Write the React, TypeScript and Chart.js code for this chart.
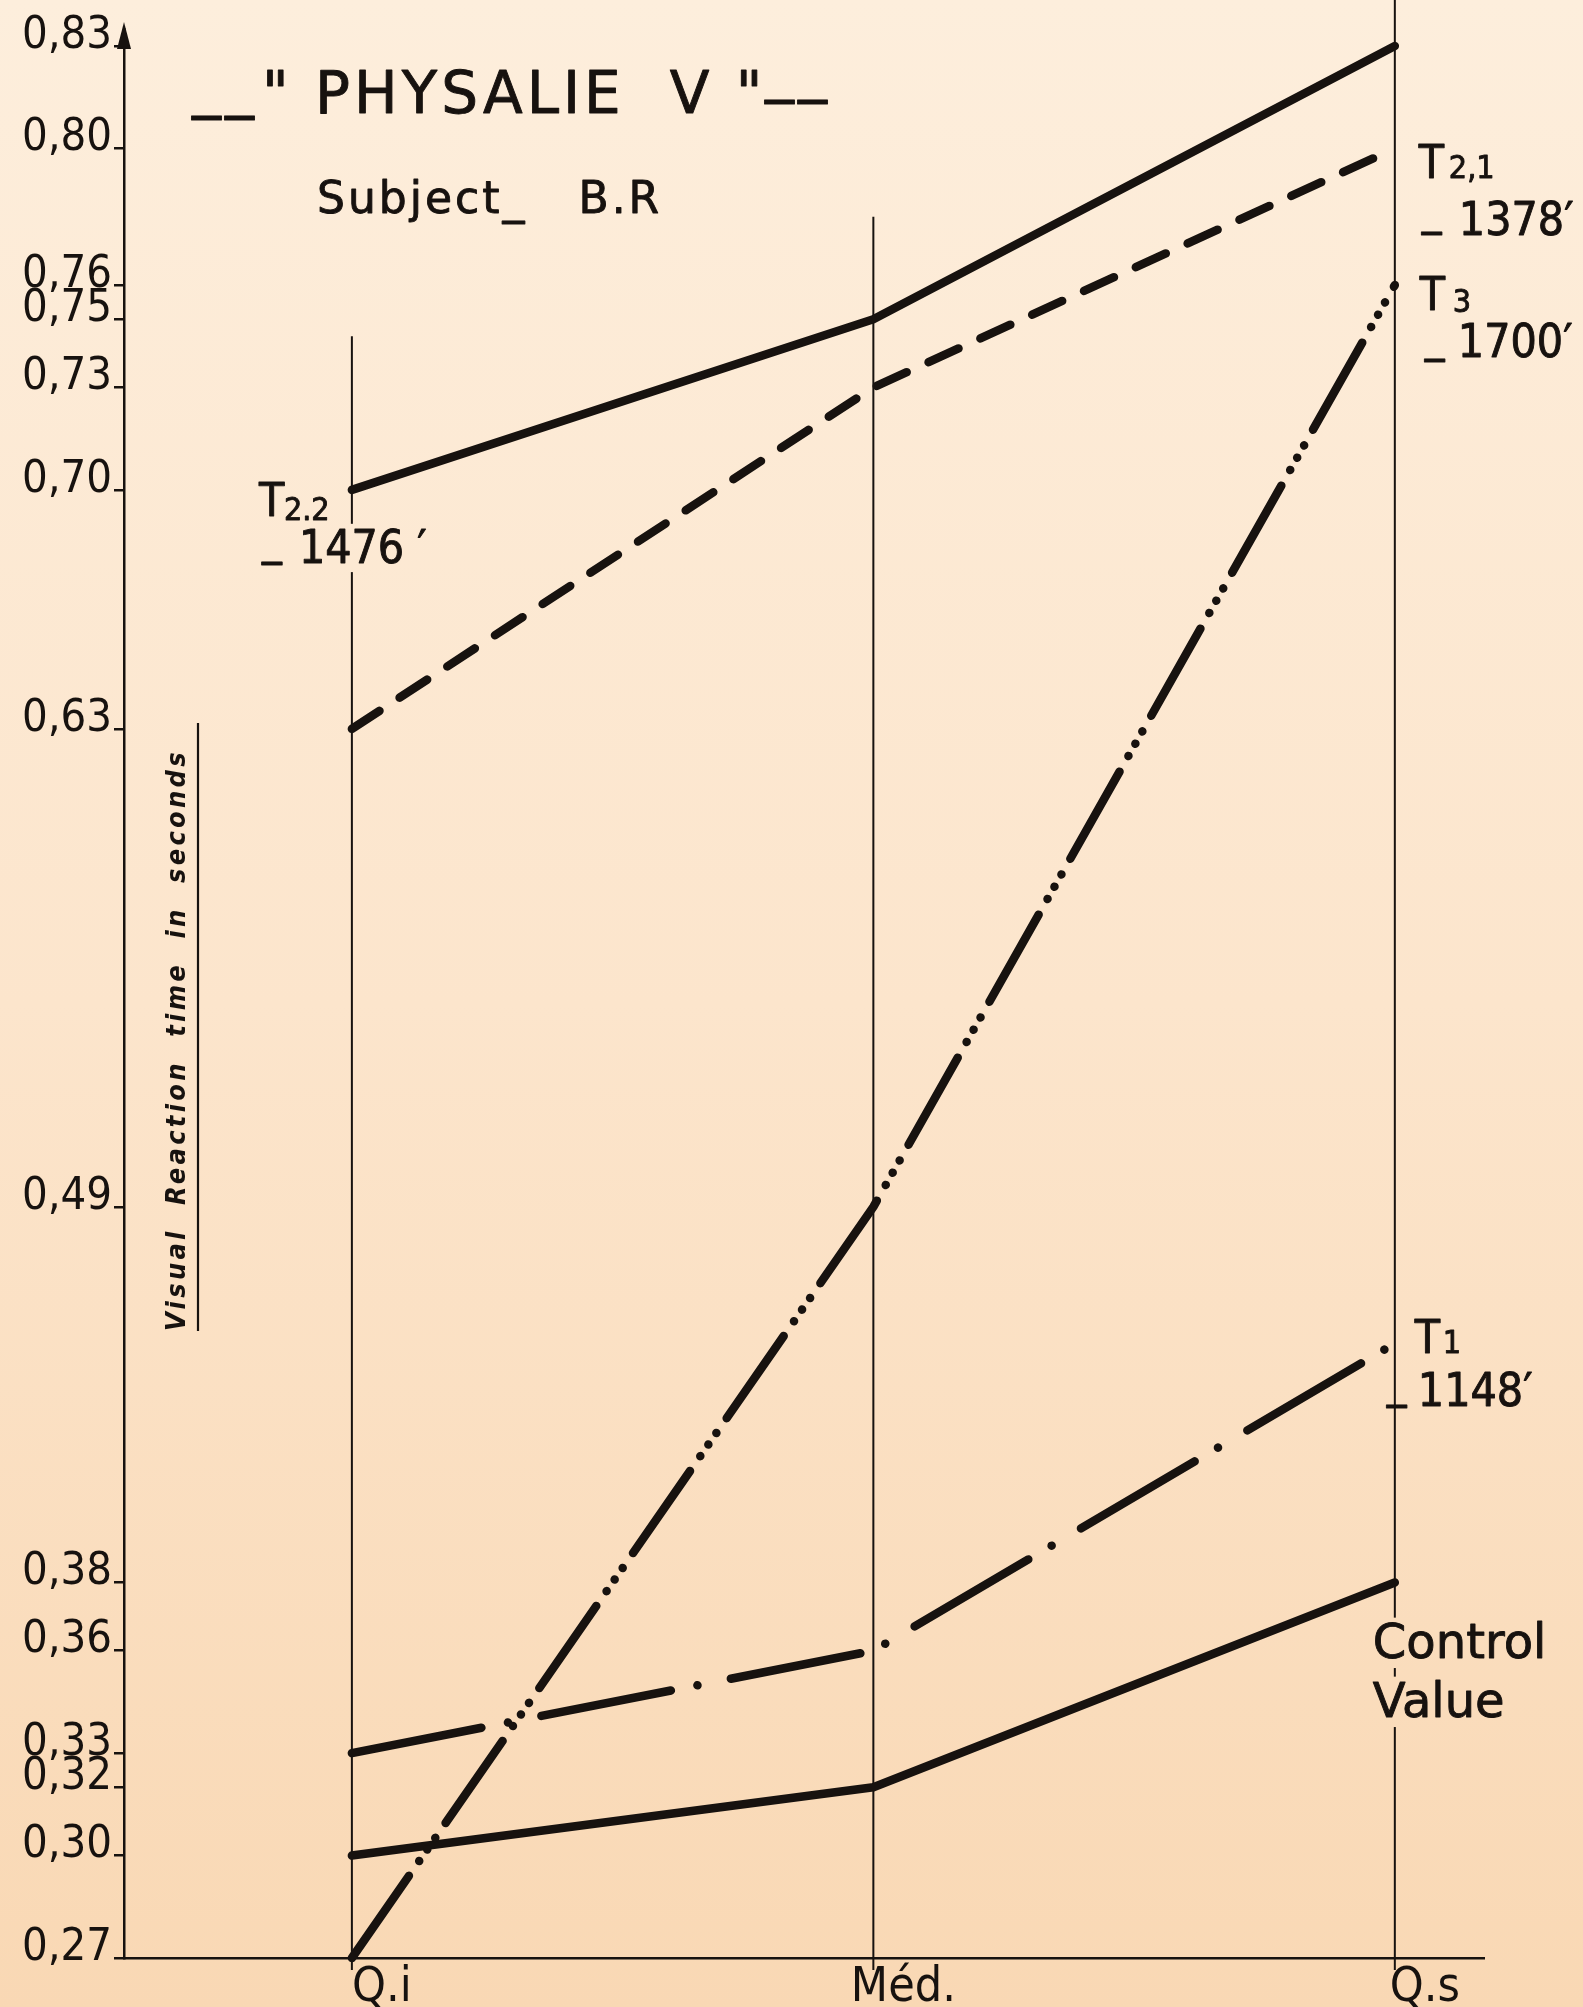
import React, { useEffect, useRef } from 'react';
import { Chart, registerables } from 'chart.js';

Chart.register(...registerables);

// ---- data ----
const categories = ['Q.i', 'Méd.', 'Q.s'];
const yTickValues = [0.27, 0.30, 0.32, 0.33, 0.36, 0.38, 0.49, 0.63, 0.70, 0.73, 0.75, 0.76, 0.80, 0.83];
const yTickLabels = ['0,27', '0,30', '0,32', '0,33', '0,36', '0,38', '0,49', '0,63', '0,70', '0,73', '0,75', '0,76', '0,80', '0,83'];
const t22 = [0.70, 0.75, 0.83];
const t21 = [0.63, 0.73, 0.80];
const t3 = [0.27, 0.49, 0.76];
const t1 = [0.33, 0.36, 0.45];
const control = [0.30, 0.32, 0.38];

const titleText = '" PHYSALIE  V "';
const subtitleText = 'Subject_   B.R';
const yTitle = 'Visual  Reaction  time  in  seconds';

const INK = '#17120f';
const COND = '"DejaVu Sans Condensed", "DejaVu Sans", sans-serif';
const SANS = '"DejaVu Sans", sans-serif';

type Piece = { text: string; dx: number; dy: number; size: number; family?: string; bg?: boolean };
// annotation text pieces, offsets relative to the anchoring data point
const annotations: { dataset: number; index: number; pieces: Piece[] }[] = [
  {
    dataset: 0, index: 0, pieces: [
      { text: 'T', dx: -93, dy: 26, size: 46 },
      { text: '2.2', dx: -68, dy: 30, size: 32 },
      { text: '_', dx: -90, dy: 64, size: 44 },
      { text: '1476 ′', dx: -53, dy: 73, size: 46, bg: true },
    ],
  },
  {
    dataset: 1, index: 2, pieces: [
      { text: 'T', dx: 24, dy: 30, size: 46 },
      { text: '2,1', dx: 54, dy: 30, size: 32 },
      { text: '_', dx: 27, dy: 76, size: 44 },
      { text: '1378′', dx: 64, dy: 87, size: 46 },
    ],
  },
  {
    dataset: 2, index: 2, pieces: [
      { text: 'T', dx: 25, dy: 25, size: 46 },
      { text: '3', dx: 58, dy: 27, size: 32 },
      { text: '_', dx: 30, dy: 66, size: 44 },
      { text: '1700′', dx: 63, dy: 72, size: 46 },
    ],
  },
  {
    dataset: 3, index: 2, pieces: [
      { text: 'T', dx: 20, dy: 10, size: 46 },
      { text: '1', dx: 48, dy: 10, size: 32 },
      { text: '_', dx: -8, dy: 54, size: 44 },
      { text: '1148′', dx: 23, dy: 63, size: 46 },
    ],
  },
  {
    dataset: 4, index: 2, pieces: [
      { text: 'Control', dx: -22, dy: 76, size: 48, family: SANS, bg: true },
      { text: 'Value', dx: -22, dy: 135, size: 48, family: SANS, bg: true },
    ],
  },
];

// value at which each category guide line begins (null = top of the plot)
const guideTop: (number | null)[] = [0.745, 0.78, null];

export default function App() {
  const ref = useRef<HTMLCanvasElement>(null);

  useEffect(() => {
    document.body.style.margin = '0';
    const canvas = ref.current!;
    let paper: CanvasGradient | null = null;
    const getPaper = (ctx: CanvasRenderingContext2D, h: number) => {
      if (!paper) {
        paper = ctx.createLinearGradient(0, 0, 0, h);
        paper.addColorStop(0, '#FDEEDC');
        paper.addColorStop(0.5, '#FCE5CC');
        paper.addColorStop(1, '#F9D8B4');
      }
      return paper;
    };

    const inkText = (ctx: CanvasRenderingContext2D, text: string, x: number, y: number) => {
      ctx.fillText(text, x, y);
      ctx.strokeText(text, x, y);
    };

    const mk = (label: string, values: number[], dash: number[], width: number) => ({
      label,
      data: values.map((y, i) => ({ x: i, y })),
      borderColor: INK,
      backgroundColor: INK,
      borderWidth: width,
      borderDash: dash,
      borderCapStyle: 'round' as const,
      borderJoinStyle: 'round' as const,
      pointRadius: 0,
      tension: 0,
      fill: false,
      clip: false as const,
    });

    const decor = {
      id: 'decor',
      beforeDraw(chart: any) {
        const { ctx, width, height } = chart;
        ctx.save();
        ctx.fillStyle = getPaper(ctx, height);
        ctx.fillRect(0, 0, width, height);
        ctx.restore();
      },
      beforeDatasetsDraw(chart: any) {
        const { ctx, chartArea } = chart;
        const xs = chart.scales.x;
        const ys = chart.scales.y;
        ctx.save();
        ctx.strokeStyle = INK;
        ctx.lineWidth = 2;
        categories.forEach((_, i) => {
          const x = xs.getPixelForValue(i);
          const top = guideTop[i] == null ? 0 : ys.getPixelForValue(guideTop[i]);
          ctx.beginPath();
          ctx.moveTo(x, top);
          ctx.lineTo(x, chartArea.bottom + 12);
          ctx.stroke();
        });
        ctx.restore();
      },
      afterDatasetsDraw(chart: any) {
        const { ctx, chartArea, height } = chart;
        const xs = chart.scales.x;
        const ys = chart.scales.y;
        const sets = [t22, t21, t3, t1, control];
        ctx.save();
        ctx.fillStyle = INK;
        ctx.strokeStyle = INK;
        ctx.lineWidth = 0.9;
        ctx.lineJoin = 'round';
        ctx.textAlign = 'left';
        ctx.textBaseline = 'alphabetic';
        annotations.forEach((a) => {
          const px = xs.getPixelForValue(a.index);
          const py = ys.getPixelForValue(sets[a.dataset][a.index]);
          a.pieces.forEach((p) => {
            ctx.font = `${p.size}px ${p.family || COND}`;
            const x = px + p.dx;
            const y = py + p.dy;
            if (p.bg) {
              const w = ctx.measureText(p.text).width;
              ctx.fillStyle = getPaper(ctx, height);
              ctx.fillRect(x - 6, y - p.size * 0.85, w + 12, p.size * 1.05);
              ctx.fillStyle = INK;
            }
            inkText(ctx, p.text, x, y);
          });
        });

        // title
        ctx.font = `58px ${SANS}`;
        (ctx as any).letterSpacing = '4px';
        inkText(ctx, '__', 192, 106);
        inkText(ctx, titleText, 262, 113);
        inkText(ctx, '__', 765, 90);
        ctx.font = `44px ${SANS}`;
        (ctx as any).letterSpacing = '3px';
        inkText(ctx, subtitleText, 317, 213);

        // y axis title with its rule
        ctx.save();
        ctx.translate(chartArea.left + 54, 1040);
        ctx.rotate(-Math.PI / 2);
        ctx.font = `italic bold 27px ${COND}`;
        (ctx as any).letterSpacing = '0px';
        const w0 = ctx.measureText(yTitle).width;
        const ls = Math.max(0, (582 - w0) / yTitle.length);
        (ctx as any).letterSpacing = `${ls}px`;
        ctx.textAlign = 'center';
        ctx.textBaseline = 'middle';
        ctx.fillText(yTitle, 0, 0);
        ctx.restore();
        (ctx as any).letterSpacing = '0px';
        ctx.strokeStyle = INK;
        ctx.lineWidth = 2.2;
        ctx.beginPath();
        ctx.moveTo(chartArea.left + 74, 723);
        ctx.lineTo(chartArea.left + 74, 1331);
        ctx.stroke();

        // arrow head on the y axis
        const ax = chartArea.left;
        ctx.beginPath();
        ctx.moveTo(ax, chartArea.top - 7);
        ctx.lineTo(ax - 7, chartArea.top + 20);
        ctx.lineTo(ax + 7, chartArea.top + 20);
        ctx.closePath();
        ctx.fill();
        ctx.restore();
      },
    };

    const chart = new Chart(canvas, {
      type: 'line',
      data: {
        datasets: [
          mk('T2.2 _1476′', t22, [], 8.5),
          mk('T2.1 _1378′', t21, [33, 24], 8.5),
          mk('T3 _1700′', t3, [100, 18, 0.1, 14, 0.1, 14, 0.1, 18], 8.5),
          mk('T1 _1148′', t1, [132, 27, 0.1, 34], 8.5),
          mk('Control Value', control, [], 8.5),
        ],
      },
      options: {
        responsive: false,
        animation: false,
        devicePixelRatio: 1,
        layout: { padding: { top: 8, right: 99, bottom: 0, left: 0 } },
        plugins: {
          legend: { display: false },
          tooltip: { enabled: false },
          title: { display: false },
        },
        scales: {
          x: {
            type: 'linear',
            min: -0.437,
            max: 2.171,
            afterBuildTicks: (s: any) => {
              s.ticks = categories.map((_, i) => ({ value: i }));
            },
            afterFit: (s: any) => {
              s.height = 49;
            },
            grid: { display: false },
            border: { display: true, color: INK, width: 2.5 },
            ticks: {
              autoSkip: false,
              maxRotation: 0,
              padding: -6,
              labelOffset: 30,
              color: INK,
              font: { family: COND, size: 48 },
              callback: (_v: any, i: number) => categories[i],
            },
          },
          y: {
            type: 'linear',
            min: 0.27,
            max: 0.835,
            afterBuildTicks: (s: any) => {
              s.ticks = yTickValues.map((v) => ({ value: v }));
            },
            afterFit: (s: any) => {
              s.width = 124;
            },
            grid: { display: true, drawOnChartArea: false, drawTicks: true, tickLength: 10, color: INK, lineWidth: 2.5 },
            border: { display: true, color: INK, width: 2.5 },
            ticks: {
              autoSkip: false,
              padding: 2,
              labelOffset: -10,
              color: INK,
              font: { family: COND, size: 45 },
              callback: (_v: any, i: number) => yTickLabels[i],
            },
          },
        },
      },
      plugins: [decor],
    } as any);

    return () => chart.destroy();
  }, []);

  return <canvas ref={ref} width={1583} height={2007} style={{ display: 'block' }} />;
}
